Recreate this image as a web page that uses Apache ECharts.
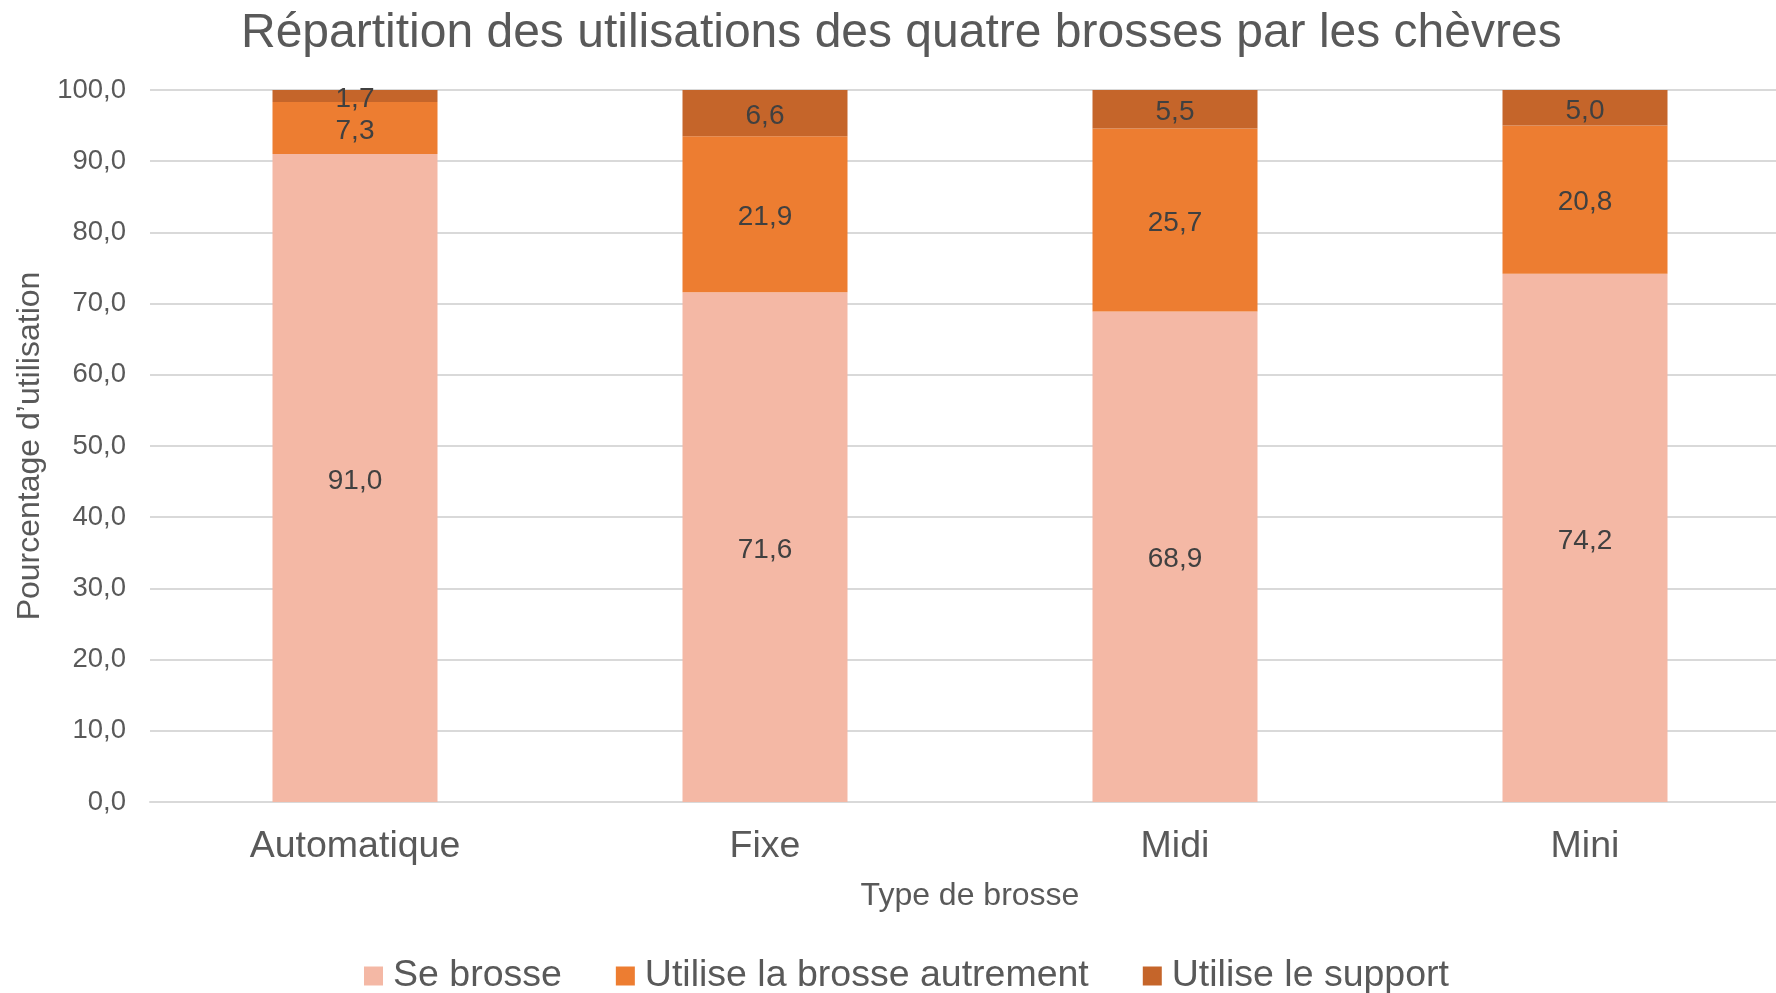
<!DOCTYPE html>
<html>
<head>
<meta charset="utf-8">
<script src="https://cdn.jsdelivr.net/npm/echarts@6/dist/echarts.min.js"></script>
<style>
  html, body { margin: 0; padding: 0; background: #fff; }
  #chart { width: 1776px; height: 993px; }
</style>
</head>
<body>
<div id="chart"></div>
<script>
// Données
var brosses = ['Automatique', 'Fixe', 'Midi', 'Mini'];
var seBrosse = [91.0, 71.6, 68.9, 74.2];
var autrement = [7.3, 21.9, 25.7, 20.8];
var support = [1.7, 6.6, 5.5, 5.0];
var yTicks = [0, 10, 20, 30, 40, 50, 60, 70, 80, 90, 100];

var police = '"Liberation Sans", Arial, sans-serif';

function virgule(v) {
  return Number(v).toFixed(1).replace('.', ',');
}

function serie(nom, valeurs, couleur) {
  return {
    name: nom,
    type: 'bar',
    stack: 'total',
    barWidth: 165,
    data: valeurs,
    itemStyle: { color: couleur },
    label: {
      show: true,
      position: 'inside',
      offset: [0, 3],
      color: '#404040',
      fontSize: 28,
      fontFamily: police,
      formatter: function (p) { return virgule(p.value); }
    },
    emphasis: { disabled: true }
  };
}

var chart = echarts.init(document.getElementById('chart'));

chart.setOption({
  animation: false,
  textStyle: { fontFamily: police },
  title: {
    text: 'Répartition des utilisations des quatre brosses par les chèvres',
    left: 236,
    top: 5,
    textStyle: { color: '#595959', fontSize: 48, fontWeight: 'normal', fontFamily: police }
  },
  grid: { left: 150, top: 90, width: 1640, bottom: 191, containLabel: false, outerBoundsMode: 'none' },
  legend: {
    left: 359,
    top: 952,
    itemWidth: 19,
    itemHeight: 19,
    itemGap: 54,
    icon: 'rect',
    textStyle: { color: '#595959', fontSize: 37.5, fontFamily: police, padding: [0, 0, 0, 5] },
    data: ['Se brosse', 'Utilise la brosse autrement', 'Utilise le support']
  },
  xAxis: {
    type: 'category',
    data: brosses,
    name: 'Type de brosse',
    nameLocation: 'middle',
    nameGap: 78,
    nameTextStyle: { color: '#595959', fontSize: 32, fontFamily: police },
    axisLine: { lineStyle: { color: '#D9D9D9', width: 2 } },
    axisTick: { show: false },
    axisLabel: { color: '#595959', fontSize: 37.5, margin: 26, fontFamily: police }
  },
  yAxis: {
    type: 'value',
    min: yTicks[0],
    max: yTicks[yTicks.length - 1],
    interval: 10,
    name: 'Pourcentage d\u2019utilisation',
    nameLocation: 'middle',
    nameGap: 102,
    nameTextStyle: { color: '#595959', fontSize: 32, fontFamily: police },
    axisLine: { show: false },
    axisTick: { show: false },
    splitLine: { lineStyle: { color: '#D9D9D9', width: 2 } },
    axisLabel: {
      color: '#595959',
      fontSize: 27.5,
      margin: 24,
      fontFamily: police,
      formatter: function (v) { return virgule(v); }
    }
  },
  series: [
    serie('Se brosse', seBrosse, '#F4B8A5'),
    serie('Utilise la brosse autrement', autrement, '#ED7D31'),
    serie('Utilise le support', support, '#C5652A')
  ]
});
</script>
</body>
</html>
